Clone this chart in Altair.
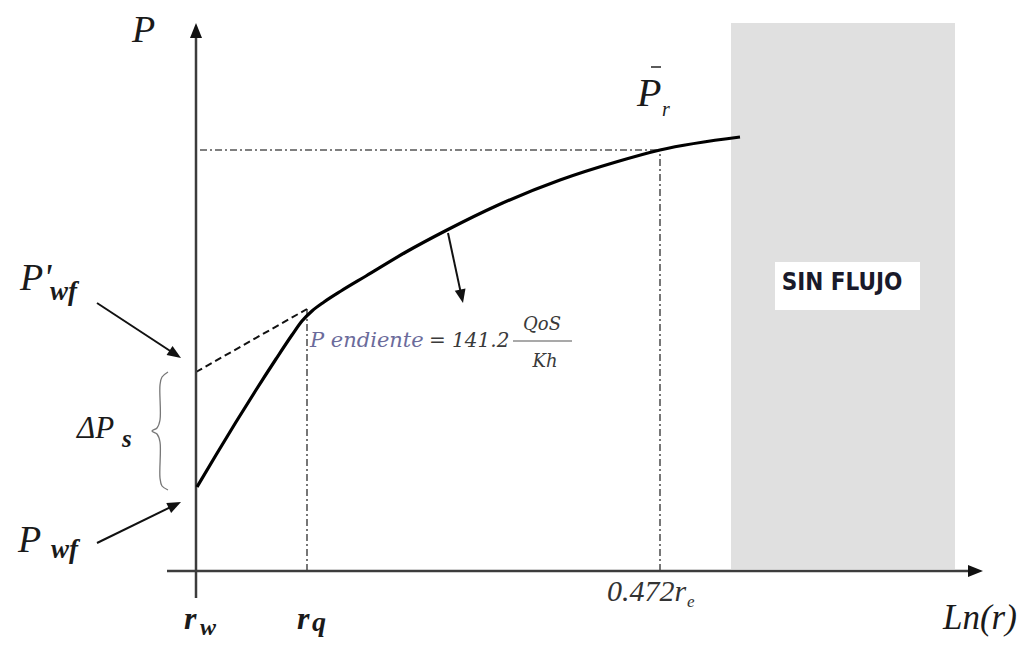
import math
import altair as alt
import pandas as pd

# ---------------- data (diagram units: x = Ln(r), y = P; origin at r_w on the Ln(r) axis) ----------------
curve_lnr = [1, 20, 40, 60, 80, 96, 106, 116, 128, 145, 170, 210, 251, 300, 364, 420, 464, 544]
curve_p = [84, 116, 149, 181, 212, 236, 250, 260, 269, 280, 295, 319, 341, 365, 391, 409, 421, 434]

x_rw, x_rq, x_re = 0, 111, 464          # r_w, r_q, 0.472 r_e
p_wf_prime, p_rq, p_r = 199, 262, 421  # P'wf (extrapolated), P at r_q, P bar r

x_axis_from, x_axis_to = -29, 787
y_axis_from, y_axis_to = -27, 548

nf_x = [535, 759]           # SIN FLUJO region
nf_y = [2, 548]
nf_box_x = [579, 724]
nf_box_y = [261, 309]

brace_x = [-28, -34, -36, -36, -39, -44, -39, -36, -36, -34, -28]
brace_y = [199, 194, 186, 151, 143, 140, 137, 129, 93, 85, 81]

arrow_tail_x = [-99, -99, 252]
arrow_tail_y = [268, 28, 338]
arrow_tip_x = [-15, -15, 267]
arrow_tip_y = [213, 69, 268]

# labels (Liberation Serif italic)
lab_it_text = ["P", "P'", "P", "ΔP", "P", "r", "0.472r", "e", "Ln(r)"]
lab_it_x = [-64, -176, -178, -119, 441, 466, 411, 491, 747]
lab_it_y = [529, 281, 19, 133, 465, 455, -30, -36, -58]
lab_it_size = [38, 38, 38, 31, 40, 20, 30, 17, 35]
lab_it_color = ["#1a1a1a"] * 6 + ["#333333", "#333333", "#1a1a1a"]

# labels (Liberation Serif bold italic)
lab_bi_text = ["wf", "wf", "s", "r", "w", "r", "q"]
lab_bi_x = [-146, -145, -74, -12, 4, 101, 116]
lab_bi_y = [271, 13, 124, -58, -64, -58, -60]
lab_bi_size = [27, 27, 25, 32, 24, 32, 28]

# slope annotation (DejaVu Serif italic)
slope_text = ["P endiente", "= 141.2", "QoS", "Kh"]
slope_x = [114, 233, 346, 349]
slope_y = [224, 224, 241, 204]
slope_size = [21, 20, 18, 18]
slope_color = ["#6b6b9b", "#3a3a3a", "#3a3a3a", "#3a3a3a"]
frac_x = [317, 376]
frac_y = 230
pbar_x = [455, 465]
pbar_y = 504

# ---------------- chart ----------------
W, H = 1015, 631
xs = alt.Scale(domain=[-188, 827], nice=False, zero=False)
ys = alt.Scale(domain=[-68, 563], nice=False, zero=False)


def X(f="x"):
    return alt.X(f"{f}:Q", scale=xs, axis=None)


def Y(f="y"):
    return alt.Y(f"{f}:Q", scale=ys, axis=None)


def segs(rows):
    return pd.DataFrame(rows, columns=["x", "y", "x2", "y2"])


def rule_layer(df, color, width, dash=None):
    kw = dict(color=color, strokeWidth=width)
    if dash is not None:
        kw["strokeDash"] = dash
    return alt.Chart(df).mark_rule(**kw).encode(
        x=X(), y=Y(), x2=alt.X2("x2:Q"), y2=alt.Y2("y2:Q"))


# no-flow region
nf = alt.Chart(pd.DataFrame({"x": [nf_x[0]], "x2": [nf_x[1]], "y": [nf_y[0]], "y2": [nf_y[1]]})).mark_rect(
    color="#e0e0e0").encode(x=X(), x2=alt.X2("x2:Q"), y=Y(), y2=alt.Y2("y2:Q"))
nf_box = alt.Chart(pd.DataFrame({"x": [nf_box_x[0]], "x2": [nf_box_x[1]], "y": [nf_box_y[0]], "y2": [nf_box_y[1]]})).mark_rect(
    color="#ffffff").encode(x=X(), x2=alt.X2("x2:Q"), y=Y(), y2=alt.Y2("y2:Q"))
nf_text = alt.Chart(pd.DataFrame({"x": [646], "y": [281], "t": ["SIN FLUJO"]})).mark_text(
    font="DejaVu Sans Condensed, DejaVu Sans", fontWeight="bold", fontSize=24, color="#1a1a2a",
    align="center", baseline="alphabetic").encode(x=X(), y=Y(), text="t:N")

# dash-dot guides
guides = rule_layer(segs([
    [x_rw + 4, p_r, x_re, p_r],
    [x_rq, 0, x_rq, p_rq],
    [x_re, 0, x_re, p_r],
]), "#555555", 1.6, [7, 3, 2, 3])

# tangent (dashed)
tangent = rule_layer(segs([[x_rw, p_wf_prime, x_rq, p_rq]]), "#111111", 2, [7, 4])

# axes
axes = rule_layer(segs([
    [x_rw, y_axis_from, x_rw, y_axis_to - 10],
    [x_axis_from, 0, x_axis_to - 10, 0],
]), "#3c3c3c", 2.5)

# curve
curve = alt.Chart(pd.DataFrame({"x": curve_lnr, "y": curve_p})).mark_line(
    color="#000000", strokeWidth=3.2, interpolate="monotone").encode(x=X(), y=Y())

# brace
brace = alt.Chart(pd.DataFrame({"x": brace_x, "y": brace_y, "i": list(range(len(brace_x)))})).mark_line(
    color="#777777", strokeWidth=1.3, interpolate="catmull-rom").encode(x=X(), y=Y(), order="i:Q")

# annotation arrow shafts (shortened a little so the head covers the end)
shafts = []
heads = []
for tx, ty, hx, hy in zip(arrow_tail_x, arrow_tail_y, arrow_tip_x, arrow_tip_y):
    dx, dy = hx - tx, hy - ty
    n = math.hypot(dx, dy)
    shafts.append([tx, ty, hx - 6 * dx / n, hy - 6 * dy / n])
    heads.append([hx, hy, math.degrees(math.atan2(dx, dy)) % 360, 750])
heads.append([x_rw, y_axis_to, 0, 900])
heads.append([x_axis_to, 0, 90, 900])
shaft_layer = rule_layer(segs(shafts), "#111111", 2)

ARROW = "M0,0L-0.4,1L0.4,1Z"
head_layer = alt.Chart(pd.DataFrame(heads, columns=["x", "y", "a", "s"])).mark_point(
    shape=ARROW, filled=True, opacity=1, color="#111111", strokeWidth=0).encode(
    x=X(), y=Y(), angle=alt.Angle("a:Q", scale=None), size=alt.Size("s:Q", scale=None))

# fraction bar and P-bar overline
bars = rule_layer(segs([[frac_x[0], frac_y, frac_x[1], frac_y]]), "#555555", 1.2)
pbar = rule_layer(segs([[pbar_x[0], pbar_y, pbar_x[1], pbar_y]]), "#333333", 1.6)


def text_layer(texts, xs_, ys_, sizes, colors, font, weight, style, align="left"):
    df = pd.DataFrame({"t": texts, "x": xs_, "y": ys_, "s": sizes, "c": colors})
    return alt.Chart(df).mark_text(font=font, fontWeight=weight, fontStyle=style,
                                   align=align, baseline="alphabetic").encode(
        x=X(), y=Y(), text="t:N", size=alt.Size("s:Q", scale=None),
        color=alt.Color("c:N", scale=None))


t_it = text_layer(lab_it_text, lab_it_x, lab_it_y, lab_it_size, lab_it_color,
                  "Liberation Serif", "normal", "italic")
t_bi = text_layer(lab_bi_text, lab_bi_x, lab_bi_y, lab_bi_size, ["#1a1a1a"] * len(lab_bi_text),
                  "Liberation Serif", "bold", "italic")
t_sl_left = text_layer(slope_text[:2], slope_x[:2], slope_y[:2], slope_size[:2], slope_color[:2],
                       "DejaVu Serif", "normal", "italic", "left")
t_sl_frac = text_layer(slope_text[2:], slope_x[2:], slope_y[2:], slope_size[2:], slope_color[2:],
                       "DejaVu Serif", "normal", "italic", "center")

chart = alt.layer(
    nf, nf_box, nf_text, guides, tangent, axes, curve, brace, shaft_layer, head_layer,
    bars, pbar, t_it, t_bi, t_sl_left, t_sl_frac
).properties(
    width=W, height=H, padding=0, autosize=alt.AutoSizeParams(type="none")
).configure_view(stroke=None)

chart.save("out.html", embed_options={"renderer": "svg", "actions": False})
